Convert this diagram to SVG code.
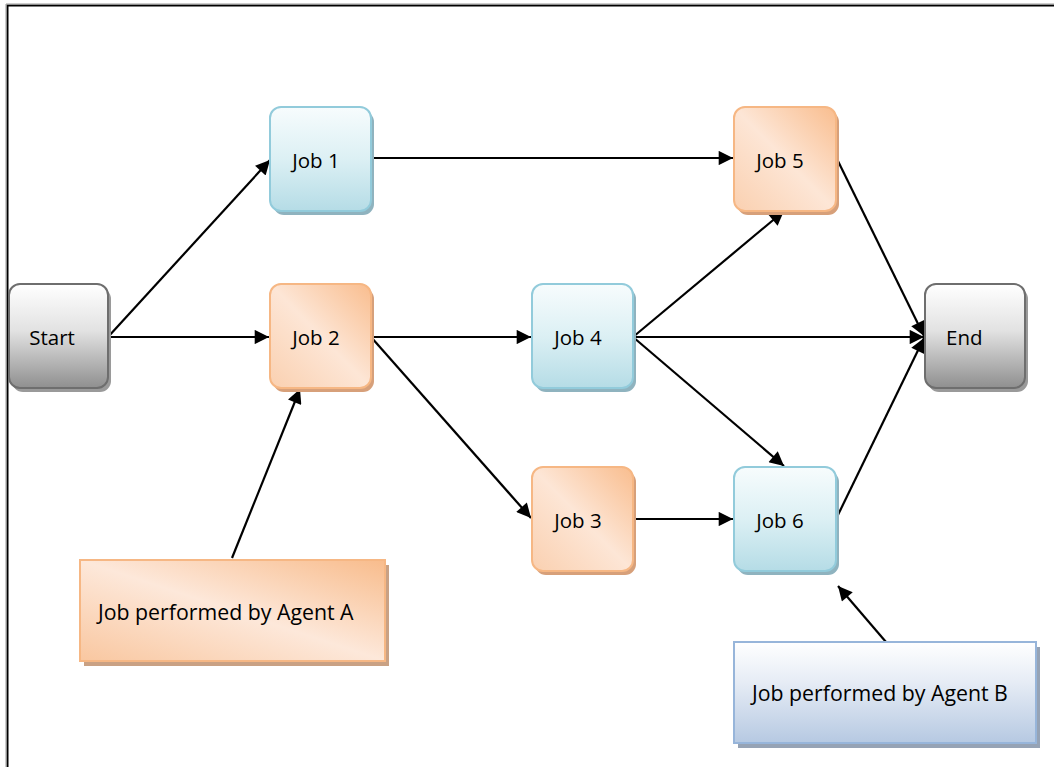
<svg xmlns="http://www.w3.org/2000/svg" width="1054" height="767" viewBox="0 0 1054 767">
  <defs>
    <linearGradient id="gGray" x1="0" y1="0" x2="0" y2="1">
      <stop offset="0" stop-color="#ffffff"/>
      <stop offset="0.45" stop-color="#e2e2e2"/>
      <stop offset="1" stop-color="#8f8f8f"/>
    </linearGradient>
    <linearGradient id="gBlue" x1="0" y1="0" x2="0" y2="1">
      <stop offset="0" stop-color="#f7fcfd"/>
      <stop offset="0.5" stop-color="#dcf0f4"/>
      <stop offset="1" stop-color="#b5dce6"/>
    </linearGradient>
    <linearGradient id="gOrange" x1="1" y1="0" x2="0" y2="1">
      <stop offset="0" stop-color="#f9bd8e"/>
      <stop offset="0.5" stop-color="#fde6d6"/>
      <stop offset="1" stop-color="#fad0b0"/>
    </linearGradient>
    <linearGradient id="gOrangeWide" x1="1" y1="0" x2="0" y2="1">
      <stop offset="0" stop-color="#f8bc8c"/>
      <stop offset="0.5" stop-color="#fde8da"/>
      <stop offset="1" stop-color="#f9c7a0"/>
    </linearGradient>
    <linearGradient id="gSteel" x1="0" y1="0" x2="0" y2="1">
      <stop offset="0" stop-color="#ffffff"/>
      <stop offset="0.4" stop-color="#e6ecf5"/>
      <stop offset="1" stop-color="#b6c9e2"/>
    </linearGradient>
    <marker id="arrow" viewBox="0 0 10 10" refX="10" refY="5" markerWidth="7.5" markerHeight="6.5" markerUnits="strokeWidth" orient="auto">
      <path d="M0,0 L10,5 L0,10 z" fill="#000"/>
    </marker>
  </defs>
  <style>
    .lbl { font-family: "Open Sans", "Liberation Sans", sans-serif; font-size: 20.5px; fill: #000; }
    .wide { font-size: 21.3px; }
    .shadowGray { fill: #9a9a9a; }
    .shadowBlue { fill: #8fb3bf; }
    .shadowOrange { fill: #d7a07a; }
    .gray { fill: url(#gGray); stroke: #6e6e6e; stroke-width: 2; }
    .blue { fill: url(#gBlue); stroke: #92cbdb; stroke-width: 2; }
    .orange { fill: url(#gOrange); stroke: #f6b784; stroke-width: 2; }
    .conn { stroke: #000; stroke-width: 2.2; fill: none; marker-end: url(#arrow); }
  </style>

  <rect width="1054" height="767" fill="#ffffff"/>
  <!-- page frame -->
  <path d="M7.5,767 V5.5 H1054" fill="none" stroke="#000" stroke-width="2"/>
  <path d="M6,767 V4 H1054" fill="none" stroke="#9b9b9b" stroke-width="1"/>

  <g id="connectors">
    <line class="conn" x1="108" y1="337" x2="270" y2="160"/>
    <line class="conn" x1="108" y1="337" x2="269" y2="337"/>
    <line class="conn" x1="371" y1="158" x2="733" y2="158"/>
    <line class="conn" x1="371" y1="337" x2="531" y2="337"/>
    <line class="conn" x1="371" y1="337" x2="531" y2="518"/>
    <line class="conn" x1="633" y1="337" x2="784" y2="211"/>
    <line class="conn" x1="633" y1="337" x2="924" y2="337"/>
    <line class="conn" x1="633" y1="337" x2="784" y2="466"/>
    <line class="conn" x1="633" y1="519" x2="733" y2="519"/>
    <line class="conn" x1="836" y1="157" x2="924" y2="336"/>
    <line class="conn" x1="836" y1="519" x2="924" y2="338"/>
    <line class="conn" x1="232" y1="558" x2="300" y2="389"/>
    <line class="conn" x1="886" y1="642" x2="838" y2="586"/>
  </g>

  <g id="start">
    <rect class="shadowGray" x="12" y="288" width="99" height="104" rx="11"/>
    <rect class="gray" x="9" y="284" width="99" height="104" rx="11"/>
    <text class="lbl" x="52" y="345" text-anchor="middle">Start</text>
  </g>

  <g id="job1">
    <rect class="shadowBlue" x="273" y="111" width="101" height="104" rx="11"/>
    <rect class="blue" x="270" y="107" width="101" height="104" rx="11"/>
    <text class="lbl" x="316" y="168" text-anchor="middle">Job 1</text>
  </g>

  <g id="job2">
    <rect class="shadowOrange" x="273" y="288" width="101" height="104" rx="11"/>
    <rect class="orange" x="270" y="284" width="101" height="104" rx="11"/>
    <text class="lbl" x="316" y="345" text-anchor="middle">Job 2</text>
  </g>

  <g id="job4">
    <rect class="shadowBlue" x="535" y="288" width="101" height="104" rx="11"/>
    <rect class="blue" x="532" y="284" width="101" height="104" rx="11"/>
    <text class="lbl" x="578" y="345" text-anchor="middle">Job 4</text>
  </g>

  <g id="job3">
    <rect class="shadowOrange" x="535" y="471" width="101" height="104" rx="11"/>
    <rect class="orange" x="532" y="467" width="101" height="104" rx="11"/>
    <text class="lbl" x="578" y="528" text-anchor="middle">Job 3</text>
  </g>

  <g id="job5">
    <rect class="shadowOrange" x="737" y="111" width="102" height="104" rx="11"/>
    <rect class="orange" x="734" y="107" width="102" height="104" rx="11"/>
    <text class="lbl" x="780" y="168" text-anchor="middle">Job 5</text>
  </g>

  <g id="job6">
    <rect class="shadowBlue" x="737" y="471" width="102" height="104" rx="11"/>
    <rect class="blue" x="734" y="467" width="102" height="104" rx="11"/>
    <text class="lbl" x="780" y="528" text-anchor="middle">Job 6</text>
  </g>

  <g id="end">
    <rect class="shadowGray" x="928" y="288" width="100" height="104" rx="11"/>
    <rect class="gray" x="925" y="284" width="100" height="104" rx="11"/>
    <text class="lbl" x="946" y="345">End</text>
  </g>

  <g id="agentA">
    <rect x="84" y="565" width="305" height="101" fill="#c9a184"/>
    <rect x="80" y="560" width="305" height="101" fill="url(#gOrangeWide)" stroke="#f6b784" stroke-width="2"/>
    <text class="lbl wide" x="98" y="620">Job performed by Agent A</text>
  </g>

  <g id="agentB">
    <rect x="738" y="647" width="302" height="101" fill="#96a3b5"/>
    <rect x="734" y="642" width="302" height="101" fill="url(#gSteel)" stroke="#97b5da" stroke-width="2"/>
    <text class="lbl wide" x="752" y="701">Job performed by Agent B</text>
  </g>
</svg>
